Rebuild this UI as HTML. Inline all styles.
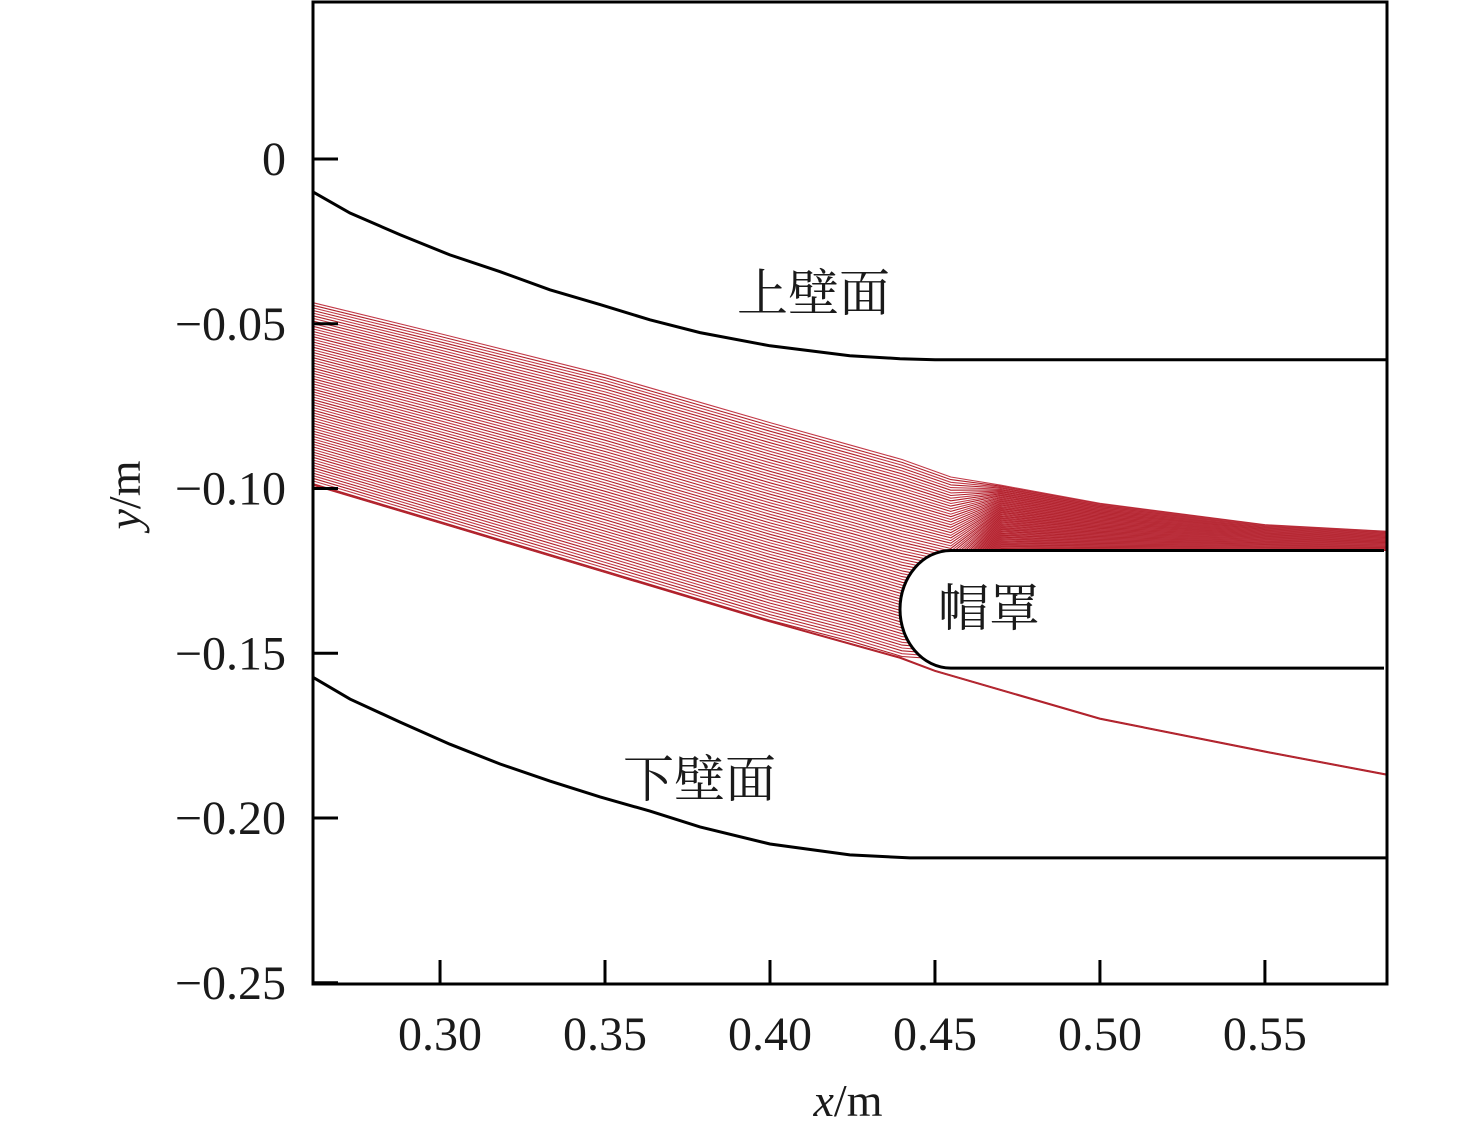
<!DOCTYPE html>
<html><head><meta charset="utf-8"><style>
html,body{margin:0;padding:0;background:#fff;}
svg text{font-family:"Liberation Serif","Noto Serif CJK SC",serif;fill:#1a1a1a;}
</style></head><body>
<svg id="chart" width="1476" height="1134" viewBox="0 0 1476 1134" xmlns="http://www.w3.org/2000/svg">
<g id="plot"></g>
<g id="axes"></g>
<text x="737" y="311" font-size="51" style="font-family:'Noto Serif CJK SC',serif">上壁面</text>
<text x="938" y="626" font-size="51" style="font-family:'Noto Serif CJK SC',serif">帽罩</text>
<text x="623" y="797" font-size="51" style="font-family:'Noto Serif CJK SC',serif">下壁面</text>
<text x="848" y="1116" font-size="46" text-anchor="middle"><tspan font-style="italic">x</tspan>/m</text>
<text transform="translate(140,495) rotate(-90)" font-size="46" text-anchor="middle"><tspan font-style="italic">y</tspan>/m</text>
</svg>
<script>
const xTicks=[0.30,0.35,0.40,0.45,0.50,0.55];
const xTickLabels=["0.30","0.35","0.40","0.45","0.50","0.55"];
const yTicks=[0,-0.05,-0.10,-0.15,-0.20,-0.25];
const yTickLabels=["0","\u22120.05","\u22120.10","\u22120.15","\u22120.20","\u22120.25"];
const upperWallX=[0.2615,0.2727,0.2879,0.3030,0.3182,0.3333,0.3485,0.3636,0.3788,0.4,0.4242,0.4394,0.45,0.587];
const upperWallY=[-0.0100,-0.0164,-0.0230,-0.0291,-0.0342,-0.0397,-0.0442,-0.0488,-0.0527,-0.0567,-0.0597,-0.0606,-0.0609,-0.0609];
const lowerWallX=[0.2615,0.2727,0.2879,0.3030,0.3182,0.3333,0.3485,0.3636,0.3788,0.4,0.4242,0.4424,0.587];
const lowerWallY=[-0.1573,-0.1639,-0.1709,-0.1776,-0.1836,-0.1888,-0.1936,-0.1979,-0.2027,-0.2079,-0.2112,-0.2121,-0.2121];
const cowlTopY=-0.1188, cowlBottomY=-0.1545, cowlNoseX=0.4394, cowlLipX=0.4548, cowlEndX=0.587;
const bandX=[0.2615,0.30,0.35,0.40,0.425,0.44,0.4548,0.47,0.50,0.55,0.587];
const bandTopY=[-0.0436,-0.0530,-0.0655,-0.0800,-0.0870,-0.0912,-0.0965,-0.0990,-0.1045,-0.1110,-0.1130];
const bandDivY=[-0.0985,-0.1100,-0.1250,-0.1400,-0.1465,-0.1510,-0.1520,-0.1188,-0.1188,-0.1188,-0.1188];
const lowerLineX=[0.2615,0.30,0.35,0.40,0.4394,0.45,0.50,0.55,0.587];
const lowerLineY=[-0.0990,-0.1105,-0.1255,-0.1405,-0.1515,-0.1555,-0.1700,-0.1800,-0.1870];
const nStreams=70;

const X0=0.2615,X1=0.587,PX0=313,PX1=1387;
const Y0=0,PY0=159,PYS=3295;
const sx=v=>PX0+(v-X0)*(PX1-PX0)/(X1-X0);
const sy=v=>PY0-(v-Y0)*PYS;
const NS="http://www.w3.org/2000/svg";
const plot=document.getElementById('plot'),axes=document.getElementById('axes');
function mk(tag,attrs,parent){const e=document.createElementNS(NS,tag);for(const k in attrs)e.setAttribute(k,attrs[k]);parent.appendChild(e);return e;}
function poly(xs,ys){return xs.map((x,i)=>sx(x).toFixed(1)+','+sy(ys[i]).toFixed(1)).join(' ');}

for(let i=0;i<nStreams;i++){
  const t=i/(nStreams-1);
  const ys=bandTopY.map((v,k)=>v+(bandDivY[k]-v)*t);
  const p=mk('polyline',{points:poly(bandX,ys),fill:'none',stroke:i%2?'#b0202a':'#c23a48','stroke-width':'1.1','stroke-linejoin':'round'},plot);
  
  
}
for(let i=0;i<2;i++){
  const p=mk('polyline',{points:poly(lowerLineX,lowerLineY.map(v=>v+i*0.0003)),fill:'none',stroke:'#b0202a','stroke-width':'1.1'},plot);
  
  
}
let w=mk('polyline',{points:poly(upperWallX,upperWallY),fill:'none',stroke:'#000','stroke-width':'3'},plot);


w=mk('polyline',{points:poly(lowerWallX,lowerWallY),fill:'none',stroke:'#000','stroke-width':'3'},plot);


const ct=sy(cowlTopY),cb=sy(cowlBottomY),cn=sx(cowlNoseX),cl=sx(cowlLipX),ce=sx(cowlEndX)-3;
const r=(cb-ct)/2;
let c=mk('path',{d:`M${ce},${ct} L${cl},${ct} C${cl-(cl-cn)*0.55},${ct} ${cn},${ct+r*0.45} ${cn},${ct+r} C${cn},${cb-r*0.45} ${cl-(cl-cn)*0.55},${cb} ${cl},${cb} L${ce},${cb}`,fill:'#fff',stroke:'#000','stroke-width':'3'},plot);


let f=mk('rect',{x:313,y:2,width:1074,height:982,fill:'none',stroke:'#000','stroke-width':'3'},axes);


xTicks.forEach((v,i)=>{
  const x=sx(v);
  const t=mk('line',{x1:x,x2:x,y1:984,y2:960,stroke:'#000','stroke-width':'3'},axes);
  
  
  const l=mk('text',{x:x,y:1050,'font-size':'48','text-anchor':'middle'},axes);
  l.textContent=xTickLabels[i];
  
  
});
yTicks.forEach((v,i)=>{
  const y=sy(v);
  const t=mk('line',{x1:313,x2:338,y1:y,y2:y,stroke:'#000','stroke-width':'3'},axes);
  
  
  const l=mk('text',{x:286,y:y+16,'font-size':'48','text-anchor':'end'},axes);
  l.textContent=yTickLabels[i];
  
  
});
</script>
</body></html>
